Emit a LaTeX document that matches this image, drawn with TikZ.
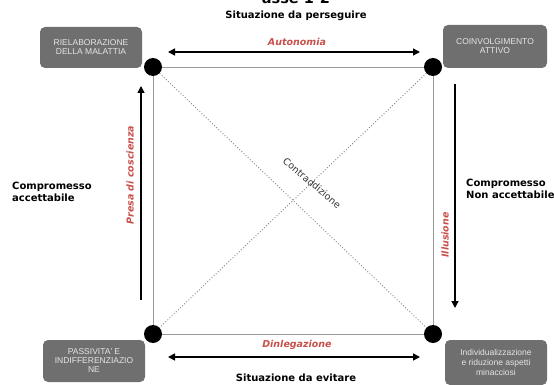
\documentclass[tikz,border=0pt]{standalone}
\usepackage{fontspec}
\setmainfont{DejaVu Sans}
\newfontfamily\boxfont{Liberation Sans}
\usetikzlibrary{arrows.meta}
\definecolor{boxgray}{HTML}{6F6F6F}
\definecolor{labelred}{HTML}{C8504A}
\begin{document}
\begin{tikzpicture}[x=1pt,y=-1pt,
  corner/.style={circle,fill=black,inner sep=0pt,minimum size=18pt},
  statebox/.style={rounded corners=5pt,fill=boxgray,text=white!90!black,
    font=\boxfont\fontsize{8.5}{9}\selectfont,align=center,inner sep=1pt},
  side/.style={draw=gray!80,line width=0.8pt},
  diag/.style={draw=gray,dotted,line width=0.9pt},
  flow/.style={line width=1.5pt,-{Triangle[length=7pt,width=7pt]}},
  flowboth/.style={line width=1.5pt,{Triangle[length=7pt,width=7pt]}-{Triangle[length=7pt,width=7pt]}},
  tag/.style={text=labelred,font=\bfseries\itshape\fontsize{9.5}{11}\selectfont},
  note/.style={font=\bfseries\fontsize{10}{12}\selectfont,align=left,inner sep=0pt}]

\useasboundingbox (0,0) rectangle (554,385);

% title (partly outside the page)
\node[font=\bfseries\fontsize{14.5}{16}\selectfont,anchor=base] (title) at (296,4) {asse 1-2};
\node[font=\bfseries\fontsize{10}{12}\selectfont] (goal) at (296,16) {Situazione da perseguire};
\node[font=\bfseries\fontsize{10}{12}\selectfont] (avoid) at (296,378) {Situazione da evitare};

% state boxes
\node[statebox,minimum width=102pt,minimum height=41pt] (rel) at (91,47.5)
  {RIELABORAZIONE\\DELLA MALATTIA};
\node[statebox,minimum width=104pt,minimum height=43pt] (coi) at (495,46.5)
  {COINVOLGIMENTO\\ATTIVO};
\node[statebox,minimum width=102pt,minimum height=42pt] (pas) at (94,361)
  {PASSIVITA' E\\INDIFFERENZIAZIO\\NE};
\node[statebox,minimum width=102pt,minimum height=45pt,
  font=\boxfont\fontsize{8.5}{10}\selectfont] (ind) at (496,362.5)
  {Individualizzazione\\e riduzione aspetti\\minacciosi};

% corners of the square
\node[corner] (tl) at (153,67) {};
\node[corner] (tr) at (433,67) {};
\node[corner] (bl) at (153,334) {};
\node[corner] (br) at (433,334) {};

% sides and diagonals
\draw[side] (tl) -- (tr);
\draw[side] (bl) -- (br);
\draw[side] (tl) -- (bl);
\draw[side] (tr) -- (br);
\draw[diag] (tl) -- (br);
\draw[diag] (tr) -- (bl);
\node[font=\fontsize{9.5}{11}\selectfont,rotate=-40,text=black!80] (contr) at (312,183) {Contraddizione};

% transitions
\coordinate (a1) at (168,52);
\coordinate (a2) at (420,52);
\coordinate (d1) at (168,357);
\coordinate (d2) at (420,357);
\coordinate (p1) at (141,300);
\coordinate (p2) at (141,86);
\coordinate (i1) at (455,84);
\coordinate (i2) at (455,308);
\draw[flowboth] (a1) -- (a2);
\draw[flowboth] (d1) -- (d2);
\draw[flow] (p1) -- (p2);
\draw[flow] (i1) -- (i2);

\node[tag] (aut) at (297,42) {Autonomia};
\node[tag] (del) at (297,345) {Dinlegazione};
\node[tag,rotate=90] (pres) at (130,175) {Presa di coscienza};
\node[tag,rotate=90] (ill) at (445,235) {Illusione};

% side notes
\node[note,anchor=west] (acc) at (12,192) {Compromesso\\accettabile};
\node[note,anchor=west] (nacc) at (466,189) {Compromesso\\Non accettabile};
\end{tikzpicture}
\end{document}
